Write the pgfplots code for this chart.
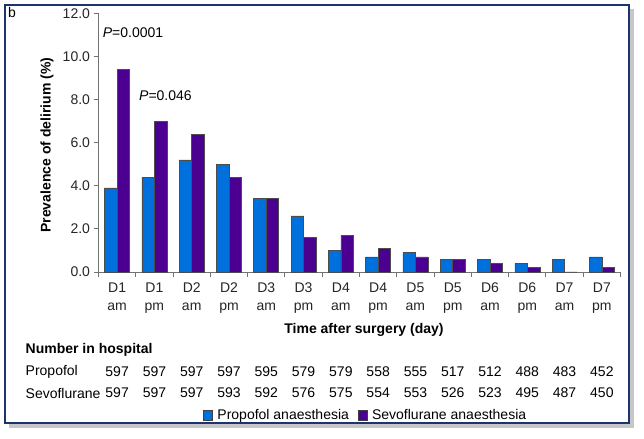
\documentclass[border=0pt]{standalone}
\usepackage{pgfplots}
\pgfplotsset{compat=1.18}
\usepackage{fontspec}
\setmainfont{Liberation Sans}
\definecolor{propblue}{RGB}{0,112,221}
\definecolor{sevopurple}{RGB}{75,0,145}
\definecolor{framenavy}{RGB}{28,52,108}
\newcommand\fs{\fontsize{14bp}{18bp}\selectfont}
\begin{document}
\begin{tikzpicture}[x=1bp,y=1bp]
\useasboundingbox (0,0) rectangle (644,439);
\fill[black!22] (9,11) rectangle (634,430);
\filldraw[fill=white, draw=framenavy, line width=1.8bp] (5,16) rectangle (629,434);
\node[anchor=north west, inner sep=0pt, font=\fs] at (8,432) {b};
\begin{axis}[
  at={(98.5bp,167bp)}, anchor=south west,
  scale only axis, width=522bp, height=258.7bp,
  xmin=-0.5, xmax=13.5, ymin=0, ymax=12,
  axis x line*=bottom, axis y line*=left,
  ybar=0pt, bar width=12.5bp,
  xtick={-0.5,0.5,...,13.5}, xticklabels={},
  extra x ticks={0,1,...,13},
  extra x tick labels={{D1\\am},{D1\\pm},{D2\\am},{D2\\pm},{D3\\am},{D3\\pm},{D4\\am},{D4\\pm},{D5\\am},{D5\\pm},{D6\\am},{D6\\pm},{D7\\am},{D7\\pm}},
  extra x tick style={major tick length=0pt},
  xticklabel style={align=center, yshift=-7bp},
  ytick={0,2,...,12},
  yticklabel style={/pgf/number format/.cd, fixed, fixed zerofill, precision=1},
  /pgf/number format/assume math mode=true,
  tick align=outside, major tick length=5bp,
  axis line style={draw=black!55, line width=0.9bp},
  tick style={draw=black!55, line width=0.9bp},
  tick label style={font=\fs, text=black!85},
  xlabel={\bfseries Time after surgery (day)},
  ylabel={\bfseries Prevalence of delirium (\%)},
  xlabel style={at={(axis description cs:0.5086,-0.222)}, anchor=center, font=\fs},
  ylabel style={at={(axis description cs:-0.0987,0.49)}, anchor=center, rotate=0, font=\fs},
  clip=false,
  legend style={at={(axis description cs:0.512,-0.553)}, anchor=center, draw=none, fill=none,
    font=\fs, legend columns=2,
    /tikz/every even column/.append style={column sep=7bp},
    /tikz/every odd column/.append style={column sep=2.5bp},
    inner sep=0pt},
  legend image code/.code={\draw[#1,draw=black!75,line width=0.6bp] (0bp,-5bp) rectangle (9bp,5bp);},
]
\addplot[fill=propblue, draw=black!70, line width=0.6bp] coordinates {
(0,3.9) (1,4.4) (2,5.2) (3,5.0) (4,3.4) (5,2.6) (6,1.0) (7,0.7) (8,0.9) (9,0.6) (10,0.6) (11,0.4) (12,0.6) (13,0.7)};
\addplot[fill=sevopurple, draw=black!70, line width=0.6bp] coordinates {
(0,9.4) (1,7.0) (2,6.4) (3,4.4) (4,3.4) (5,1.6) (6,1.7) (7,1.1) (8,0.7) (9,0.6) (10,0.4) (11,0.2) (12,0.0) (13,0.2)};
\legend{Propofol anaesthesia, Sevoflurane anaesthesia}
\end{axis}
\node[anchor=west, inner sep=0pt, font=\fs] at (102.7,406) {\textit{P}=0.0001};
\node[anchor=west, inner sep=0pt, font=\fs] at (139,343) {\textit{P}=0.046};
\node[anchor=west, inner sep=0pt, font=\fs] at (25.5,89) {\bfseries Number in hospital};
\node[anchor=west, inner sep=0pt, font=\fs] at (25.5,67) {Propofol};
\node[anchor=west, inner sep=0pt, font=\fs] at (25.5,46) {Sevoflurane};
\foreach \v [count=\i from 0] in {597,597,597,597,595,579,579,558,555,517,512,488,483,452}
  \node[inner sep=0pt, font=\fs] at ({98.5+37.2857*(\i+0.5)},67) {\v};
\foreach \v [count=\i from 0] in {597,597,597,593,592,576,575,554,553,526,523,495,487,450}
  \node[inner sep=0pt, font=\fs] at ({98.5+37.2857*(\i+0.5)},46) {\v};
\end{tikzpicture}
\end{document}
